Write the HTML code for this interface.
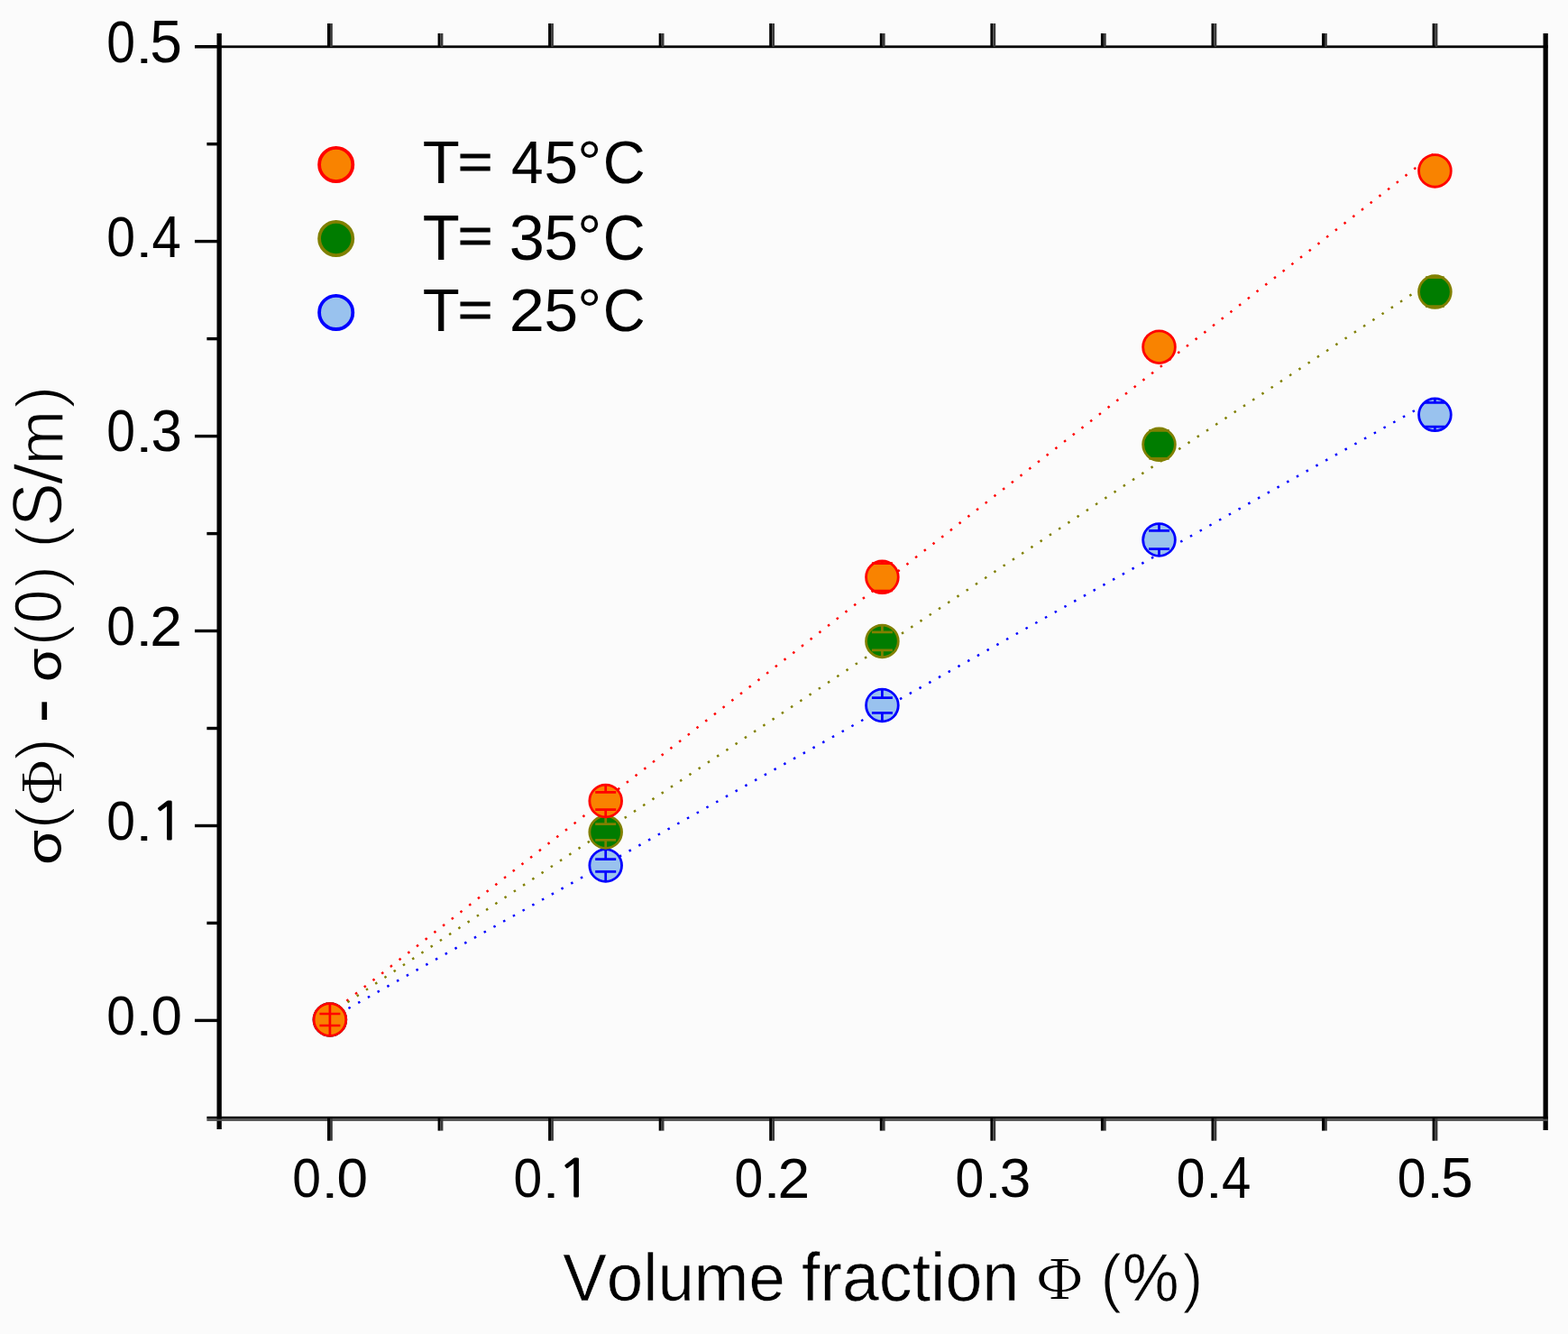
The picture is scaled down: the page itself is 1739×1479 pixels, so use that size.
<!DOCTYPE html><html><head><meta charset="utf-8"><title>chart</title><style>html,body{margin:0;padding:0;background:#fbfbfb;}svg{display:block}text{font-kerning:none}</style></head><body>
<svg width="1739" height="1479" viewBox="0 0 1739 1479">
<rect width="1739" height="1479" fill="#fbfbfb"/>
<line x1="365.0" y1="1124.8" x2="1591.4" y2="169.5" stroke="#ff0000" stroke-width="2.5" stroke-dasharray="2.5 9.8"/>
<line x1="365.0" y1="1124.8" x2="1591.4" y2="309.2" stroke="#808000" stroke-width="2.5" stroke-dasharray="2.5 9.8"/>
<line x1="365.0" y1="1130.0" x2="1591.4" y2="442.6" stroke="#0000ff" stroke-width="2.5" stroke-dasharray="2.5 9.8"/>
<circle cx="365.9" cy="1130.5" r="17.85" fill="#99c2ee" stroke="#0000ff" stroke-width="2.8"/><path d="M354.4 1124.5H377.4M354.4 1136.5H377.4M365.9 1112.7V1124.5M365.9 1136.5V1148.3" stroke="#0000ff" stroke-width="2.7" fill="none"/>
<circle cx="671.7" cy="959.5" r="17.85" fill="#99c2ee" stroke="#0000ff" stroke-width="2.8"/><path d="M660.2 952.7H683.2M660.2 966.3H683.2M671.7 941.6V952.7M671.7 966.3V977.4" stroke="#0000ff" stroke-width="2.7" fill="none"/>
<circle cx="978.4" cy="782.0" r="17.85" fill="#99c2ee" stroke="#0000ff" stroke-width="2.8"/><path d="M966.9 773.7H989.9M966.9 790.3H989.9M978.4 764.1V773.7M978.4 790.3V799.9" stroke="#0000ff" stroke-width="2.7" fill="none"/>
<circle cx="1285.5" cy="598.5" r="17.85" fill="#99c2ee" stroke="#0000ff" stroke-width="2.8"/><path d="M1274.0 588.3H1297.0M1274.0 608.7H1297.0M1285.5 580.6V588.3M1285.5 608.7V616.4" stroke="#0000ff" stroke-width="2.7" fill="none"/>
<circle cx="1591.4" cy="459.8" r="17.85" fill="#99c2ee" stroke="#0000ff" stroke-width="2.8"/><path d="M1579.9 446.4H1602.9M1579.9 473.2H1602.9M1591.4 441.9V446.4M1591.4 473.2V477.7" stroke="#0000ff" stroke-width="2.7" fill="none"/>
<circle cx="365.9" cy="1130.5" r="17.85" fill="#007c00" stroke="#808000" stroke-width="2.8"/><path d="M354.4 1124.5H377.4M354.4 1136.5H377.4M365.9 1112.7V1124.5M365.9 1136.5V1148.3" stroke="#808000" stroke-width="2.7" fill="none"/>
<circle cx="671.7" cy="922.5" r="17.85" fill="#007c00" stroke="#808000" stroke-width="2.8"/><path d="M660.2 913.6H683.2M660.2 931.4H683.2M671.7 904.6V913.6M671.7 931.4V940.4" stroke="#808000" stroke-width="2.7" fill="none"/>
<circle cx="978.4" cy="710.9" r="17.85" fill="#007c00" stroke="#808000" stroke-width="2.8"/><path d="M966.9 700.9H989.9M966.9 720.9H989.9M978.4 693.0V700.9M978.4 720.9V728.8" stroke="#808000" stroke-width="2.7" fill="none"/>
<circle cx="1285.5" cy="492.8" r="17.85" fill="#007c00" stroke="#808000" stroke-width="2.8"/><path d="M1274.4 477.3H1296.6M1274.4 508.3H1296.6M1285.5 474.9V477.3M1285.5 508.3V510.7" stroke="#808000" stroke-width="2.7" fill="none"/>
<circle cx="1591.4" cy="323.6" r="17.85" fill="#007c00" stroke="#808000" stroke-width="2.8"/><path d="M1581.1 307.6H1601.7M1581.1 339.6H1601.7M1591.4 305.8V307.6M1591.4 339.6V341.5" stroke="#808000" stroke-width="2.7" fill="none"/>
<circle cx="365.9" cy="1130.5" r="17.85" fill="#f98300" stroke="#ff0000" stroke-width="2.8"/><path d="M354.4 1124.0H377.4M354.4 1137.0H377.4M365.9 1112.7V1148.3M365.9 1137.0V1148.3" stroke="#ff0000" stroke-width="2.7" fill="none"/>
<circle cx="671.7" cy="888.0" r="17.85" fill="#f98300" stroke="#ff0000" stroke-width="2.8"/><path d="M660.2 878.4H683.2M660.2 897.6H683.2M671.7 870.1V878.4M671.7 897.6V905.9" stroke="#ff0000" stroke-width="2.7" fill="none"/>
<circle cx="978.4" cy="639.8" r="17.85" fill="#f98300" stroke="#ff0000" stroke-width="2.8"/><path d="M966.9 624.6H989.9M966.9 655.0H989.9M978.4 621.9V624.6M978.4 655.0V657.6" stroke="#ff0000" stroke-width="2.7" fill="none"/>
<circle cx="1285.5" cy="384.7" r="17.85" fill="#f98300" stroke="#ff0000" stroke-width="2.8"/>
<circle cx="1591.4" cy="189.4" r="17.85" fill="#f98300" stroke="#ff0000" stroke-width="2.8"/>
<rect x="240.5" y="37" width="5.3" height="1215" fill="#000"/>
<rect x="1711.5" y="37" width="5.3" height="1216" fill="#000"/>
<rect x="216" y="50.4" width="1500.8" height="2.8" fill="#000"/>
<rect x="229.4" y="1237.8" width="1487.4" height="2.8" fill="#000"/>
<rect x="229.4" y="1240.6" width="1487.4" height="2.3" fill="#505050"/>
<rect x="216" y="1129.7" width="26" height="3.4" fill="#000"/>
<rect x="216" y="913.8" width="26" height="3.4" fill="#000"/>
<rect x="216" y="697.8" width="26" height="3.4" fill="#000"/>
<rect x="216" y="481.9" width="26" height="3.4" fill="#000"/>
<rect x="216" y="265.9" width="26" height="3.4" fill="#000"/>
<rect x="216" y="50.0" width="26" height="3.4" fill="#000"/>
<rect x="229.4" y="1021.7" width="13" height="3.4" fill="#000"/>
<rect x="229.4" y="805.8" width="13" height="3.4" fill="#000"/>
<rect x="229.4" y="589.9" width="13" height="3.4" fill="#000"/>
<rect x="229.4" y="373.9" width="13" height="3.4" fill="#000"/>
<rect x="229.4" y="158.0" width="13" height="3.4" fill="#000"/>
<rect x="363.0" y="26" width="3" height="26" fill="#000"/><rect x="366.0" y="26" width="2.8" height="26" fill="#3a3a3a"/>
<rect x="363.0" y="1240" width="3" height="24.7" fill="#000"/><rect x="366.0" y="1240" width="2.8" height="24.7" fill="#3a3a3a"/>
<rect x="608.1" y="26" width="3" height="26" fill="#000"/><rect x="611.1" y="26" width="2.8" height="26" fill="#3a3a3a"/>
<rect x="608.1" y="1240" width="3" height="24.7" fill="#000"/><rect x="611.1" y="1240" width="2.8" height="24.7" fill="#3a3a3a"/>
<rect x="853.2" y="26" width="3" height="26" fill="#000"/><rect x="856.2" y="26" width="2.8" height="26" fill="#3a3a3a"/>
<rect x="853.2" y="1240" width="3" height="24.7" fill="#000"/><rect x="856.2" y="1240" width="2.8" height="24.7" fill="#3a3a3a"/>
<rect x="1098.4" y="26" width="3" height="26" fill="#000"/><rect x="1101.4" y="26" width="2.8" height="26" fill="#3a3a3a"/>
<rect x="1098.4" y="1240" width="3" height="24.7" fill="#000"/><rect x="1101.4" y="1240" width="2.8" height="24.7" fill="#3a3a3a"/>
<rect x="1343.5" y="26" width="3" height="26" fill="#000"/><rect x="1346.5" y="26" width="2.8" height="26" fill="#3a3a3a"/>
<rect x="1343.5" y="1240" width="3" height="24.7" fill="#000"/><rect x="1346.5" y="1240" width="2.8" height="24.7" fill="#3a3a3a"/>
<rect x="1588.6" y="26" width="3" height="26" fill="#000"/><rect x="1591.6" y="26" width="2.8" height="26" fill="#3a3a3a"/>
<rect x="1588.6" y="1240" width="3" height="24.7" fill="#000"/><rect x="1591.6" y="1240" width="2.8" height="24.7" fill="#3a3a3a"/>
<rect x="485.6" y="37" width="3" height="15" fill="#000"/><rect x="488.6" y="37" width="2.8" height="15" fill="#3a3a3a"/>
<rect x="485.6" y="1240" width="3" height="13.6" fill="#000"/><rect x="488.6" y="1240" width="2.8" height="13.6" fill="#3a3a3a"/>
<rect x="730.7" y="37" width="3" height="15" fill="#000"/><rect x="733.7" y="37" width="2.8" height="15" fill="#3a3a3a"/>
<rect x="730.7" y="1240" width="3" height="13.6" fill="#000"/><rect x="733.7" y="1240" width="2.8" height="13.6" fill="#3a3a3a"/>
<rect x="975.8" y="37" width="3" height="15" fill="#000"/><rect x="978.8" y="37" width="2.8" height="15" fill="#3a3a3a"/>
<rect x="975.8" y="1240" width="3" height="13.6" fill="#000"/><rect x="978.8" y="1240" width="2.8" height="13.6" fill="#3a3a3a"/>
<rect x="1220.9" y="37" width="3" height="15" fill="#000"/><rect x="1223.9" y="37" width="2.8" height="15" fill="#3a3a3a"/>
<rect x="1220.9" y="1240" width="3" height="13.6" fill="#000"/><rect x="1223.9" y="1240" width="2.8" height="13.6" fill="#3a3a3a"/>
<rect x="1466.0" y="37" width="3" height="15" fill="#000"/><rect x="1469.0" y="37" width="2.8" height="15" fill="#3a3a3a"/>
<rect x="1466.0" y="1240" width="3" height="13.6" fill="#000"/><rect x="1469.0" y="1240" width="2.8" height="13.6" fill="#3a3a3a"/>
<circle cx="372.7" cy="182.5" r="18.6" fill="#f98300" stroke="#ff0000" stroke-width="3.8"/>
<circle cx="372.7" cy="264.5" r="18.6" fill="#007c00" stroke="#808000" stroke-width="3.8"/>
<circle cx="372.7" cy="346.4" r="18.6" fill="#99c2ee" stroke="#0000ff" stroke-width="3.8"/>
<text transform="translate(624.29,1442.10) scale(1.0100,1.0404)" font-family="Liberation Sans, sans-serif" font-size="72" stroke="#fbfbfb" stroke-width="0.6" stroke-linejoin="round">Volume</text>
<text transform="translate(888.98,1442.30) scale(1.0222,1.0423)" font-family="Liberation Sans, sans-serif" font-size="72" stroke="#fbfbfb" stroke-width="0.6" stroke-linejoin="round">fraction</text>
<text transform="translate(1148.98,1439.60) scale(1.0065,0.8857)" font-family="Noto Serif CJK SC, serif" font-size="66">Φ</text>
<text transform="translate(1220.39,1440.50) scale(0.9824,1.0134)" font-family="Liberation Sans, sans-serif" font-size="72" stroke="#fbfbfb" stroke-width="1.2" stroke-linejoin="round">(</text>
<text transform="translate(1244.86,1441.90) scale(0.9810,1.0608)" font-family="Liberation Sans, sans-serif" font-size="72" stroke="#fbfbfb" stroke-width="0.6" stroke-linejoin="round">%</text>
<text transform="translate(1311.41,1440.50) scale(0.9471,1.0134)" font-family="Liberation Sans, sans-serif" font-size="72" stroke="#fbfbfb" stroke-width="1.2" stroke-linejoin="round">)</text>
<text transform="translate(468.67,203.10) scale(1.0324,1.0289)" font-family="Liberation Sans, sans-serif" font-size="65">T</text>
<text transform="translate(507.64,198.33) scale(1.0187,0.8435)" font-family="Liberation Sans, sans-serif" font-size="65" stroke="#000" stroke-width="1">=</text>
<text transform="translate(567.12,203.10) scale(0.9848,1.0289)" font-family="Liberation Sans, sans-serif" font-size="65">4</text>
<text transform="translate(603.38,203.10) scale(1.0387,1.0289)" font-family="Liberation Sans, sans-serif" font-size="65">5</text>
<text transform="translate(640.34,203.10) scale(1.0389,1.0289)" font-family="Liberation Sans, sans-serif" font-size="65">°</text>
<text transform="translate(668.80,203.10) scale(1.0000,1.0289)" font-family="Liberation Sans, sans-serif" font-size="65">C</text>
<text transform="translate(468.67,287.80) scale(1.0324,1.0911)" font-family="Liberation Sans, sans-serif" font-size="65">T</text>
<text transform="translate(507.64,280.23) scale(1.0187,0.8435)" font-family="Liberation Sans, sans-serif" font-size="65" stroke="#000" stroke-width="1">=</text>
<text transform="translate(564.85,287.80) scale(1.0833,1.0911)" font-family="Liberation Sans, sans-serif" font-size="65">3</text>
<text transform="translate(603.38,287.80) scale(1.0387,1.0911)" font-family="Liberation Sans, sans-serif" font-size="65">5</text>
<text transform="translate(640.34,287.80) scale(1.0389,1.0911)" font-family="Liberation Sans, sans-serif" font-size="65">°</text>
<text transform="translate(668.80,287.80) scale(1.0000,1.0911)" font-family="Liberation Sans, sans-serif" font-size="65">C</text>
<text transform="translate(468.67,366.90) scale(1.0324,1.0289)" font-family="Liberation Sans, sans-serif" font-size="65">T</text>
<text transform="translate(507.64,362.13) scale(1.0187,0.8435)" font-family="Liberation Sans, sans-serif" font-size="65" stroke="#000" stroke-width="1">=</text>
<text transform="translate(564.85,366.90) scale(1.0833,1.0289)" font-family="Liberation Sans, sans-serif" font-size="65">2</text>
<text transform="translate(603.38,366.90) scale(1.0387,1.0289)" font-family="Liberation Sans, sans-serif" font-size="65">5</text>
<text transform="translate(640.34,366.90) scale(1.0389,1.0289)" font-family="Liberation Sans, sans-serif" font-size="65">°</text>
<text transform="translate(668.80,366.90) scale(1.0000,1.0289)" font-family="Liberation Sans, sans-serif" font-size="65">C</text>
<text transform="translate(67.25,959.53) rotate(-90) scale(1.0441,0.8514)" font-family="Noto Sans CJK JP, sans-serif" font-size="62">σ</text>
<text transform="translate(67.76,920.29) rotate(-90) scale(1.1188,1.0031)" font-family="Liberation Sans, sans-serif" font-size="72" stroke="#fbfbfb" stroke-width="2.2" stroke-linejoin="round">(</text>
<text transform="translate(68.10,893.59) rotate(-90) scale(0.9978,0.8796)" font-family="Noto Serif CJK SC, serif" font-size="66">Φ</text>
<text transform="translate(67.76,843.80) rotate(-90) scale(1.1000,1.0031)" font-family="Liberation Sans, sans-serif" font-size="72" stroke="#fbfbfb" stroke-width="2.2" stroke-linejoin="round">)</text>
<text transform="translate(74.95,802.85) rotate(-90) scale(1.2125,1.3500)" font-family="Liberation Sans, sans-serif" font-size="72" stroke="#fbfbfb" stroke-width="1.3" stroke-linejoin="round">-</text>
<text transform="translate(67.25,756.72) rotate(-90) scale(1.0059,0.8514)" font-family="Noto Sans CJK JP, sans-serif" font-size="62">σ</text>
<text transform="translate(67.76,717.04) rotate(-90) scale(1.0688,1.0031)" font-family="Liberation Sans, sans-serif" font-size="72" stroke="#fbfbfb" stroke-width="2.2" stroke-linejoin="round">(</text>
<text transform="translate(68.40,691.21) rotate(-90) scale(0.9382,1.0320)" font-family="Liberation Sans, sans-serif" font-size="72" stroke="#fbfbfb" stroke-width="1.3" stroke-linejoin="round">0</text>
<text transform="translate(67.76,652.60) rotate(-90) scale(1.1000,1.0031)" font-family="Liberation Sans, sans-serif" font-size="72" stroke="#fbfbfb" stroke-width="2.2" stroke-linejoin="round">)</text>
<text transform="translate(67.76,608.40) rotate(-90) scale(1.1000,1.0031)" font-family="Liberation Sans, sans-serif" font-size="72" stroke="#fbfbfb" stroke-width="2.2" stroke-linejoin="round">(</text>
<text transform="translate(68.20,583.84) rotate(-90) scale(1.0100,1.0840)" font-family="Liberation Sans, sans-serif" font-size="72" stroke="#fbfbfb" stroke-width="1.3" stroke-linejoin="round">S</text>
<text transform="translate(68.60,537.18) rotate(-90) scale(1.1833,1.0196)" font-family="Liberation Sans, sans-serif" font-size="72" stroke="#fbfbfb" stroke-width="1.3" stroke-linejoin="round">/</text>
<text transform="translate(69.63,515.45) rotate(-90) scale(1.0100,1.0324)" font-family="Liberation Sans, sans-serif" font-size="72" stroke="#fbfbfb" stroke-width="1.3" stroke-linejoin="round">m</text>
<text transform="translate(67.76,454.03) rotate(-90) scale(1.1438,1.0031)" font-family="Liberation Sans, sans-serif" font-size="72" stroke="#fbfbfb" stroke-width="2.2" stroke-linejoin="round">)</text>
<text transform="translate(118.26,1146.61) scale(0.9200,0.9932)" font-family="Liberation Sans, sans-serif" font-size="62">0</text>
<text transform="translate(150.09,1147.60) scale(1.1429,0.7571)" font-family="Liberation Sans, sans-serif" font-size="62">.</text>
<text transform="translate(167.40,1146.61) scale(1.0000,0.9932)" font-family="Liberation Sans, sans-serif" font-size="62">0</text>
<text transform="translate(118.26,931.00) scale(0.9200,0.9977)" font-family="Liberation Sans, sans-serif" font-size="62">0</text>
<text transform="translate(150.09,932.00) scale(1.1429,0.7571)" font-family="Liberation Sans, sans-serif" font-size="62">.</text>
<text transform="translate(166.85,931.09) scale(1.0188,0.9146)" font-family="NanumGothic, sans-serif" font-size="62" stroke="#000" stroke-width="1.3">1</text>
<text transform="translate(118.26,715.12) scale(0.9200,0.9818)" font-family="Liberation Sans, sans-serif" font-size="62">0</text>
<text transform="translate(150.09,716.10) scale(1.1429,0.7571)" font-family="Liberation Sans, sans-serif" font-size="62">.</text>
<text transform="translate(166.30,716.10) scale(1.0345,1.0047)" font-family="Liberation Sans, sans-serif" font-size="62">2</text>
<text transform="translate(118.26,499.65) scale(0.9200,1.0545)" font-family="Liberation Sans, sans-serif" font-size="62">0</text>
<text transform="translate(150.09,500.70) scale(1.1429,0.7571)" font-family="Liberation Sans, sans-serif" font-size="62">.</text>
<text transform="translate(167.40,499.65) scale(1.0000,1.0545)" font-family="Liberation Sans, sans-serif" font-size="62">3</text>
<text transform="translate(118.26,283.79) scale(0.9200,1.0068)" font-family="Liberation Sans, sans-serif" font-size="62">0</text>
<text transform="translate(150.09,284.80) scale(1.1429,0.7571)" font-family="Liberation Sans, sans-serif" font-size="62">.</text>
<text transform="translate(168.46,284.80) scale(0.9375,1.0548)" font-family="Liberation Sans, sans-serif" font-size="62">4</text>
<text transform="translate(118.26,68.54) scale(0.9200,1.0591)" font-family="Liberation Sans, sans-serif" font-size="62">0</text>
<text transform="translate(150.09,69.60) scale(1.1429,0.7571)" font-family="Liberation Sans, sans-serif" font-size="62">.</text>
<text transform="translate(166.30,68.52) scale(1.0345,1.0837)" font-family="Liberation Sans, sans-serif" font-size="62">5</text>
<text transform="translate(324.26,1326.60) scale(0.9200,1.0000)" font-family="Liberation Sans, sans-serif" font-size="62">0</text>
<text transform="translate(356.09,1327.60) scale(1.1429,0.7571)" font-family="Liberation Sans, sans-serif" font-size="62">.</text>
<text transform="translate(373.40,1326.60) scale(1.0000,1.0000)" font-family="Liberation Sans, sans-serif" font-size="62">0</text>
<text transform="translate(569.38,1326.60) scale(0.9200,1.0000)" font-family="Liberation Sans, sans-serif" font-size="62">0</text>
<text transform="translate(601.21,1327.60) scale(1.1429,0.7571)" font-family="Liberation Sans, sans-serif" font-size="62">.</text>
<text transform="translate(617.97,1326.68) scale(1.0187,0.9167)" font-family="NanumGothic, sans-serif" font-size="62" stroke="#000" stroke-width="1.3">1</text>
<text transform="translate(814.50,1326.60) scale(0.9200,1.0000)" font-family="Liberation Sans, sans-serif" font-size="62">0</text>
<text transform="translate(846.33,1327.60) scale(1.1429,0.7571)" font-family="Liberation Sans, sans-serif" font-size="62">.</text>
<text transform="translate(862.54,1327.60) scale(1.0345,1.0233)" font-family="Liberation Sans, sans-serif" font-size="62">2</text>
<text transform="translate(1059.62,1326.60) scale(0.9200,1.0000)" font-family="Liberation Sans, sans-serif" font-size="62">0</text>
<text transform="translate(1091.45,1327.60) scale(1.1429,0.7571)" font-family="Liberation Sans, sans-serif" font-size="62">.</text>
<text transform="translate(1108.76,1326.60) scale(1.0000,1.0000)" font-family="Liberation Sans, sans-serif" font-size="62">3</text>
<text transform="translate(1304.74,1326.60) scale(0.9200,1.0000)" font-family="Liberation Sans, sans-serif" font-size="62">0</text>
<text transform="translate(1336.57,1327.60) scale(1.1429,0.7571)" font-family="Liberation Sans, sans-serif" font-size="62">.</text>
<text transform="translate(1354.94,1327.60) scale(0.9375,1.0476)" font-family="Liberation Sans, sans-serif" font-size="62">4</text>
<text transform="translate(1549.86,1326.60) scale(0.9200,1.0000)" font-family="Liberation Sans, sans-serif" font-size="62">0</text>
<text transform="translate(1581.69,1327.60) scale(1.1429,0.7571)" font-family="Liberation Sans, sans-serif" font-size="62">.</text>
<text transform="translate(1597.90,1326.58) scale(1.0345,1.0233)" font-family="Liberation Sans, sans-serif" font-size="62">5</text>
</svg></body></html>
